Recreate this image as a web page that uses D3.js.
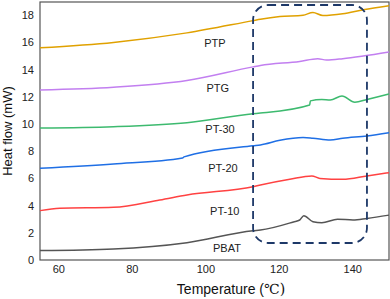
<!DOCTYPE html>
<html>
<head>
<meta charset="utf-8">
<script src="https://cdnjs.cloudflare.com/ajax/libs/d3/7.8.5/d3.min.js"></script>
<style>
  body { margin: 0; background: #fff; }
  svg { display: block; font-family: Arial, "Liberation Sans", sans-serif; }
</style>
</head>
<body>
<div id="chart"></div>
<script>
// Temperature points (°C) and heat flow (mW)
const ptpT   = [55, 75, 95, 113, 115, 120.3, 126.6, 129.3, 132, 137.4, 143, 150];
const ptpV   = [15.6, 16.0, 16.7, 17.6, 17.7, 17.9, 18.0, 18.2, 17.97, 18.1, 18.4, 18.7];
const ptgT   = [55, 75, 95, 113, 115, 125.7, 130.6, 133, 137.4, 143, 150];
const ptgV   = [12.5, 12.7, 13.2, 14.2, 14.3, 14.6, 14.8, 14.7, 14.8, 15.0, 15.3];
const pt30T  = [55, 75, 95, 113, 115, 128.4, 128.6, 131.7, 134, 137.2, 140.7, 144, 150];
const pt30V  = [9.7, 9.8, 10.1, 10.75, 10.8, 11.4, 11.7, 11.8, 11.76, 12.06, 11.6, 11.8, 12.2];
const pt20T  = [55, 75, 93.8, 94.2, 113, 115, 120.3, 126.6, 129.3, 134, 137.4, 144, 150];
const pt20V  = [6.74, 7.06, 7.5, 7.58, 8.4, 8.46, 8.8, 9.0, 8.95, 8.82, 8.95, 9.12, 9.36];
const pt10T  = [55, 60.4, 75, 87.6, 95, 113, 115, 123, 129, 131.2, 137.4, 144, 150];
const pt10V  = [3.63, 3.8, 3.87, 4.41, 4.78, 5.39, 5.51, 5.93, 6.18, 6.0, 5.93, 6.18, 6.42];
const pbatT  = [55, 75, 95, 113, 115, 124, 125.7, 126.8, 129.3, 131.7, 136, 140.2, 144, 150];
const pbatV  = [0.69, 0.81, 1.27, 2.15, 2.2, 2.8, 2.94, 3.26, 2.82, 2.74, 3.0, 2.94, 3.06, 3.3];

const seriesNames  = ["PTP", "PTG", "PT-30", "PT-20", "PT-10", "PBAT"];
const seriesColors = ["#e0a100", "#c27ff0", "#3dba6f", "#1f6fe5", "#ff4242", "#555555"];
const labelT = [102.6, 103.4, 104, 104.8, 105.3, 105.9];
const labelV = [15.96, 12.65, 9.63, 6.76, 3.6, 0.88];

const xTicks = [60, 80, 100, 120, 140];
const yTicks = [0, 2, 4, 6, 8, 10, 12, 14, 16, 18];

// dashed highlight region (°C, mW)
const boxT = [113, 144];
const boxV = [1.25, 18.75];

const width = 390, height = 299;
const margin = {top: 2, right: 1, bottom: 39, left: 40};

const svg = d3.select("#chart").append("svg")
    .attr("width", width)
    .attr("height", height);

const x = d3.scaleLinear().domain([55, 150]).range([margin.left, width - margin.right]);
const y = d3.scaleLinear().domain([0, 18.97]).range([height - margin.bottom, margin.top]);

// axes, no tick marks
const xAxis = svg.append("g")
    .attr("transform", `translate(0,${height - margin.bottom})`)
    .call(d3.axisBottom(x).tickValues(xTicks).tickSize(0).tickPadding(5));
const yAxis = svg.append("g")
    .attr("transform", `translate(${margin.left},0)`)
    .call(d3.axisLeft(y).tickValues(yTicks).tickSize(0).tickPadding(6));
[xAxis, yAxis].forEach(a => {
    a.select(".domain").remove();
    a.selectAll("text").attr("font-size", 11).attr("fill", "#222")
        .attr("font-family", "Arial, 'Liberation Sans', sans-serif");
});

// frame
svg.append("rect")
    .attr("x", margin.left)
    .attr("y", margin.top)
    .attr("width", width - margin.left - margin.right)
    .attr("height", height - margin.top - margin.bottom)
    .attr("fill", "none")
    .attr("stroke", "#555")
    .attr("stroke-width", 1.2);

const allT = [ptpT, ptgT, pt30T, pt20T, pt10T, pbatT];
const allV = [ptpV, ptgV, pt30V, pt20V, pt10V, pbatV];

const line = d3.line()
    .x(d => x(d[0]))
    .y(d => y(d[1]))
    .curve(d3.curveMonotoneX);

seriesNames.forEach((name, i) => {
    const pts = allT[i].map((t, j) => [t, allV[i][j]]);
    svg.append("path")
        .datum(pts)
        .attr("fill", "none")
        .attr("stroke", seriesColors[i])
        .attr("stroke-width", 1.5)
        .attr("d", line);

    svg.append("text")
        .attr("x", x(labelT[i]))
        .attr("y", y(labelV[i]))
        .attr("dy", "0.35em")
        .attr("text-anchor", "middle")
        .attr("font-size", 11)
        .attr("fill", "#222")
        .text(name);
});

// dashed rounded rectangle
svg.append("rect")
    .attr("x", x(boxT[0]))
    .attr("y", y(boxV[1]))
    .attr("width", x(boxT[1]) - x(boxT[0]))
    .attr("height", y(boxV[0]) - y(boxV[1]))
    .attr("rx", 15)
    .attr("fill", "none")
    .attr("stroke", "#1d3868")
    .attr("stroke-width", 1.8)
    .attr("stroke-dasharray", "8,5");

// axis titles
svg.append("text")
    .attr("x", 231)
    .attr("y", 294)
    .attr("text-anchor", "middle")
    .attr("font-size", 14)
    .attr("fill", "#111")
    .text("Temperature (")
    .append("tspan")
    .attr("font-family", "'DejaVu Serif', 'Liberation Serif', serif")
    .text("℃)");

svg.append("text")
    .attr("transform", "translate(12,131) rotate(-90)")
    .attr("text-anchor", "middle")
    .attr("font-size", 13)
    .attr("fill", "#111")
    .text("Heat flow (mW)");
</script>
</body>
</html>
